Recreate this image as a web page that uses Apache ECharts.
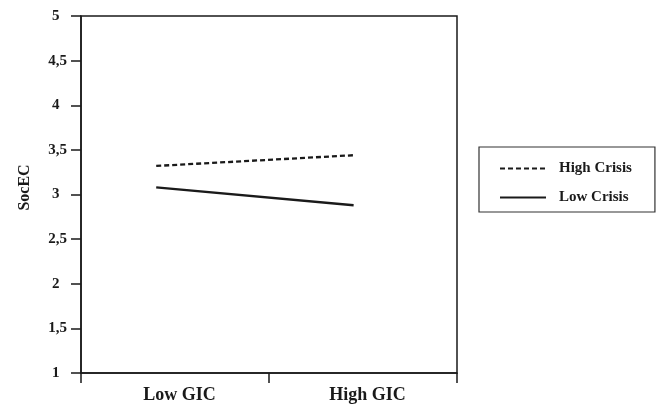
<!DOCTYPE html>
<html><head><meta charset="utf-8">
<script src="https://cdn.jsdelivr.net/npm/echarts@6/dist/echarts.min.js"></script>
<style>html,body{margin:0;padding:0;background:#fff}#c{width:659px;height:407px}</style>
</head><body><div id="c"></div>
<script>
var categories = ['Low GIC', 'High GIC'];
var xPositions = [0.40, 1.45];
var highCrisis = [3.32, 3.44];
var lowCrisis = [3.08, 2.88];
var yTicks = ['1\u2002','1,5','2\u2002','2,5','3\u2002','3,5','4\u2002','4,5','5\u2002'];

var FONT = '"Liberation Serif", "Times New Roman", serif';
var INK = '#1a1a1a';
var chart = echarts.init(document.getElementById('c'));
chart.setOption({
  animation: false,
  backgroundColor: '#fff',
  grid: {left: 81, top: 16, right: 202, bottom: 34, show: true, borderColor: INK, borderWidth: 1.5, backgroundColor: 'transparent'},
  xAxis: [{
    type: 'category', data: categories, boundaryGap: true,
    axisLine: {lineStyle: {color: INK, width: 1.5}},
    axisTick: {show: true, length: 10, inside: false, lineStyle: {color: INK, width: 1.5}},
    axisLabel: {color: INK, fontFamily: FONT, fontWeight: 'bold', fontSize: 18, margin: 13, padding: [0, 0, 0, 9]},
    splitLine: {show: false}
  }, {
    type: 'value', min: 0, max: 2, show: false, position: 'bottom'
  }],
  yAxis: {
    type: 'value', min: 1, max: 5, interval: 0.5,
    name: 'SocEC', nameLocation: 'middle', nameGap: 48, nameRotate: 90,
    nameTextStyle: {color: INK, fontFamily: FONT, fontWeight: 'bold', fontSize: 16, padding: [0, 0, 0, 14]},
    axisLine: {show: true, lineStyle: {color: INK, width: 1.5}},
    axisTick: {show: true, length: 10, lineStyle: {color: INK, width: 1.5}},
    axisLabel: {color: INK, fontFamily: FONT, fontWeight: 'bold', fontSize: 15, margin: 14,
      formatter: function (v) { return yTicks[Math.round((v - 1) * 2)]; }},
    splitLine: {show: false}
  },
  legend: {
    orient: 'vertical', left: 479, top: 147,
    data: ['High Crisis', 'Low Crisis'],
    borderColor: '#333', borderWidth: 1.2, padding: [14, 23, 7, 20],
    itemWidth: 46, itemHeight: 14, itemGap: 14,
    itemStyle: {opacity: 0},
    textStyle: {color: INK, fontFamily: FONT, fontWeight: 'bold', fontSize: 15, padding: [0, 0, 0, 8]}
  },
  series: [{
    name: 'High Crisis', type: 'line', xAxisIndex: 1, symbol: 'none',
    data: xPositions.map(function (x, i) { return [x, highCrisis[i]]; }),
    lineStyle: {color: INK, width: 2.3, type: [5, 3]}, itemStyle: {color: INK}
  }, {
    name: 'Low Crisis', type: 'line', xAxisIndex: 1, symbol: 'none',
    data: xPositions.map(function (x, i) { return [x, lowCrisis[i]]; }),
    lineStyle: {color: INK, width: 2.4, type: 'solid'}, itemStyle: {color: INK}
  }]
});
</script></body></html>
